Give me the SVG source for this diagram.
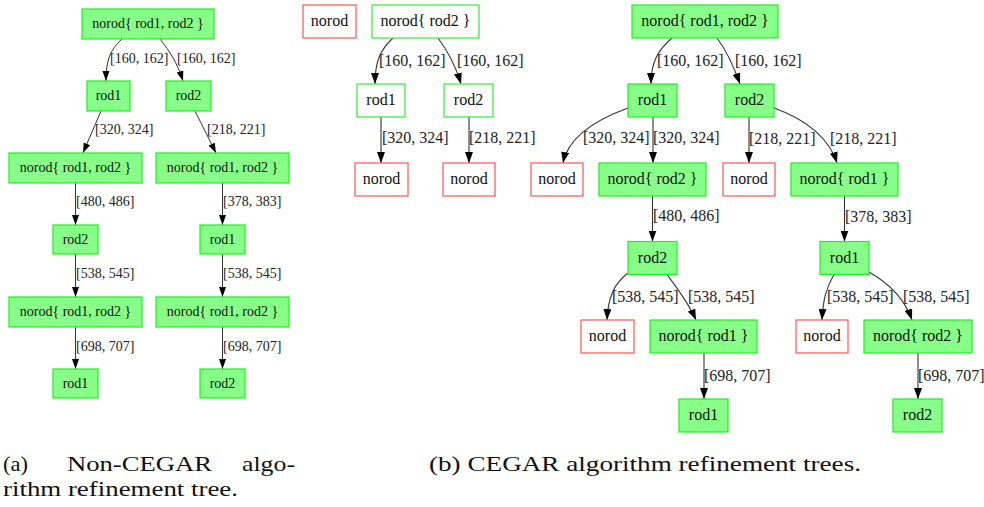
<svg xmlns="http://www.w3.org/2000/svg" width="984" height="507" viewBox="0 0 984 507">
<style>
  .g { fill: #88ff88; stroke: #22ee22; stroke-width: 1.2; }
  .w { fill: #ffffff; stroke: #33ee33; stroke-width: 1.2; }
  .r { fill: #ffffff; stroke: #ff5555; stroke-width: 1.2; }
  .ea { fill: none; stroke: #333; stroke-width: 1; marker-end: url(#arrA); }
  .eb { fill: none; stroke: #333; stroke-width: 1.1; marker-end: url(#arrB); }
</style>
<defs>
  <marker id="arrA" markerUnits="userSpaceOnUse" markerWidth="10" markerHeight="8" refX="10" refY="3.5" orient="auto" viewBox="0 0 10 7">
    <path d="M0,0 L10,3.5 L0,7 z" fill="#000"/>
  </marker>
  <marker id="arrB" markerUnits="userSpaceOnUse" markerWidth="11" markerHeight="8" refX="11" refY="4" orient="auto" viewBox="0 0 11 8">
    <path d="M0,0 L11,4 L0,8 z" fill="#000"/>
  </marker>
</defs>
<rect width="984" height="507" fill="#ffffff"/>

<g id="connectors">
  <path class="ea" d="M122,39 C110,50 106,60 106,81"/>
  <path class="ea" d="M160,39 C170,52 177,62 183,81"/>
  <path class="ea" d="M101,111 L83,153"/>
  <path class="ea" d="M195,111 L216,153"/>
  <path class="ea" d="M75.5,183 L75.5,225"/>
  <path class="ea" d="M222.5,183 L222.5,225"/>
  <path class="ea" d="M75.5,254 L75.5,297"/>
  <path class="ea" d="M222.5,254 L222.5,297"/>
  <path class="ea" d="M75.5,327 L75.5,369"/>
  <path class="ea" d="M222.5,327 L222.5,369"/>
  <path class="eb" d="M393,38 C380,50 375,62 375,84"/>
  <path class="eb" d="M438,38 C447,50 455,64 461,84"/>
  <path class="eb" d="M381,117 L381,163"/>
  <path class="eb" d="M469,117 L469,163"/>
  <path class="eb" d="M672,38 C658,50 651,62 651,84"/>
  <path class="eb" d="M717,38 C726,50 733,64 740,84"/>
  <path class="eb" d="M628,108 C595,120 568,138 563,163"/>
  <path class="eb" d="M653,117 L653,163"/>
  <path class="eb" d="M749,117 L749,163"/>
  <path class="eb" d="M774,108 C808,120 830,140 837,163"/>
  <path class="eb" d="M652.5,196 L652.5,241.5"/>
  <path class="eb" d="M844.5,196 L844.5,241.5"/>
  <path class="eb" d="M628,273 C615,283 608,296 607,320"/>
  <path class="eb" d="M667,274.5 C677,288 688,302 696,320"/>
  <path class="eb" d="M834,274.5 C826,288 823,300 822,320"/>
  <path class="eb" d="M869,272 C892,285 905,300 912,320"/>
  <path class="eb" d="M704,353 L704,399"/>
  <path class="eb" d="M918,353 L918,399"/>
</g>

<g id="edge-labels">
  <text font-family="Times New Roman" font-size="14" fill="#222" x="110" y="63">[160, 162]</text>
  <text font-family="Times New Roman" font-size="14" fill="#222" x="177" y="63">[160, 162]</text>
  <text font-family="Times New Roman" font-size="14" fill="#222" x="95" y="134">[320, 324]</text>
  <text font-family="Times New Roman" font-size="14" fill="#222" x="207" y="134">[218, 221]</text>
  <text font-family="Times New Roman" font-size="14" fill="#222" x="76" y="206">[480, 486]</text>
  <text font-family="Times New Roman" font-size="14" fill="#222" x="223" y="206">[378, 383]</text>
  <text font-family="Times New Roman" font-size="14" fill="#222" x="76" y="278">[538, 545]</text>
  <text font-family="Times New Roman" font-size="14" fill="#222" x="223" y="278">[538, 545]</text>
  <text font-family="Times New Roman" font-size="14" fill="#222" x="76" y="351">[698, 707]</text>
  <text font-family="Times New Roman" font-size="14" fill="#222" x="223" y="351">[698, 707]</text>
  <text font-family="Times New Roman" font-size="16" fill="#222" x="379" y="65.5">[160, 162]</text>
  <text font-family="Times New Roman" font-size="16" fill="#222" x="457" y="65.5">[160, 162]</text>
  <text font-family="Times New Roman" font-size="16" fill="#222" x="382" y="142.5">[320, 324]</text>
  <text font-family="Times New Roman" font-size="16" fill="#222" x="469" y="142.5">[218, 221]</text>
  <text font-family="Times New Roman" font-size="16" fill="#222" x="657" y="65.5">[160, 162]</text>
  <text font-family="Times New Roman" font-size="16" fill="#222" x="735" y="65.5">[160, 162]</text>
  <text font-family="Times New Roman" font-size="16" fill="#222" x="583" y="142.5">[320, 324]</text>
  <text font-family="Times New Roman" font-size="16" fill="#222" x="653" y="142.5">[320, 324]</text>
  <text font-family="Times New Roman" font-size="16" fill="#222" x="749" y="143.5">[218, 221]</text>
  <text font-family="Times New Roman" font-size="16" fill="#222" x="830" y="143.5">[218, 221]</text>
  <text font-family="Times New Roman" font-size="16" fill="#222" x="653" y="220.5">[480, 486]</text>
  <text font-family="Times New Roman" font-size="16" fill="#222" x="845" y="221.5">[378, 383]</text>
  <text font-family="Times New Roman" font-size="16" fill="#222" x="612" y="301.5">[538, 545]</text>
  <text font-family="Times New Roman" font-size="16" fill="#222" x="688" y="301.5">[538, 545]</text>
  <text font-family="Times New Roman" font-size="16" fill="#222" x="827" y="301.5">[538, 545]</text>
  <text font-family="Times New Roman" font-size="16" fill="#222" x="903" y="301.5">[538, 545]</text>
  <text font-family="Times New Roman" font-size="16" fill="#222" x="704" y="380.5">[698, 707]</text>
  <text font-family="Times New Roman" font-size="16" fill="#222" x="918" y="380.5">[698, 707]</text>
</g>

<g id="a-root"><rect class="g" x="82" y="9" width="132" height="30"/><text font-family="Times New Roman" font-size="14" fill="#111" text-anchor="middle" x="148" y="28">norod{ rod1, rod2 }</text></g>
<g id="a-rod1"><rect class="g" x="87" y="81" width="43" height="30"/><text font-family="Times New Roman" font-size="14" fill="#111" text-anchor="middle" x="108.5" y="100">rod1</text></g>
<g id="a-rod2"><rect class="g" x="166" y="81" width="45" height="30"/><text font-family="Times New Roman" font-size="14" fill="#111" text-anchor="middle" x="188.5" y="100">rod2</text></g>
<g id="a-n1"><rect class="g" x="9" y="153" width="133" height="30"/><text font-family="Times New Roman" font-size="14" fill="#111" text-anchor="middle" x="75.5" y="172">norod{ rod1, rod2 }</text></g>
<g id="a-n2"><rect class="g" x="156" y="153" width="133" height="30"/><text font-family="Times New Roman" font-size="14" fill="#111" text-anchor="middle" x="222.5" y="172">norod{ rod1, rod2 }</text></g>
<g id="a-rod2b"><rect class="g" x="53" y="225" width="45" height="29"/><text font-family="Times New Roman" font-size="14" fill="#111" text-anchor="middle" x="75.5" y="243.5">rod2</text></g>
<g id="a-rod1b"><rect class="g" x="200" y="225" width="45" height="29"/><text font-family="Times New Roman" font-size="14" fill="#111" text-anchor="middle" x="222.5" y="243.5">rod1</text></g>
<g id="a-n3"><rect class="g" x="9" y="297" width="133" height="30"/><text font-family="Times New Roman" font-size="14" fill="#111" text-anchor="middle" x="75.5" y="316">norod{ rod1, rod2 }</text></g>
<g id="a-n4"><rect class="g" x="156" y="297" width="133" height="30"/><text font-family="Times New Roman" font-size="14" fill="#111" text-anchor="middle" x="222.5" y="316">norod{ rod1, rod2 }</text></g>
<g id="a-rod1c"><rect class="g" x="53" y="369" width="45" height="29"/><text font-family="Times New Roman" font-size="14" fill="#111" text-anchor="middle" x="75.5" y="387.5">rod1</text></g>
<g id="a-rod2c"><rect class="g" x="200" y="369" width="45" height="29"/><text font-family="Times New Roman" font-size="14" fill="#111" text-anchor="middle" x="222.5" y="387.5">rod2</text></g>

<g id="b1-norod"><rect class="r" x="303" y="5" width="53" height="33"/><text font-family="Times New Roman" font-size="16" fill="#111" text-anchor="middle" x="329.5" y="26">norod</text></g>
<g id="b1-root"><rect class="w" x="372" y="5" width="107" height="33"/><text font-family="Times New Roman" font-size="16" fill="#111" text-anchor="middle" x="425.5" y="26">norod{ rod2 }</text></g>
<g id="b1-rod1"><rect class="w" x="357" y="84" width="48" height="33"/><text font-family="Times New Roman" font-size="16" fill="#111" text-anchor="middle" x="381" y="105">rod1</text></g>
<g id="b1-rod2"><rect class="w" x="444" y="84" width="49" height="33"/><text font-family="Times New Roman" font-size="16" fill="#111" text-anchor="middle" x="468.5" y="105">rod2</text></g>
<g id="b1-norod1"><rect class="r" x="355" y="163" width="53" height="33"/><text font-family="Times New Roman" font-size="16" fill="#111" text-anchor="middle" x="381.5" y="184">norod</text></g>
<g id="b1-norod2"><rect class="r" x="443" y="163" width="52" height="33"/><text font-family="Times New Roman" font-size="16" fill="#111" text-anchor="middle" x="469" y="184">norod</text></g>

<g id="b2-root"><rect class="g" x="632" y="5" width="146" height="33"/><text font-family="Times New Roman" font-size="16" fill="#111" text-anchor="middle" x="705" y="26">norod{ rod1, rod2 }</text></g>
<g id="b2-rod1"><rect class="g" x="628" y="84" width="49" height="33"/><text font-family="Times New Roman" font-size="16" fill="#111" text-anchor="middle" x="652.5" y="105">rod1</text></g>
<g id="b2-rod2"><rect class="g" x="725" y="84" width="49" height="33"/><text font-family="Times New Roman" font-size="16" fill="#111" text-anchor="middle" x="749.5" y="105">rod2</text></g>
<g id="b2-norod1"><rect class="r" x="531" y="163" width="52" height="33"/><text font-family="Times New Roman" font-size="16" fill="#111" text-anchor="middle" x="557" y="184">norod</text></g>
<g id="b2-n-rod2"><rect class="g" x="599" y="163" width="107" height="33"/><text font-family="Times New Roman" font-size="16" fill="#111" text-anchor="middle" x="652.5" y="184">norod{ rod2 }</text></g>
<g id="b2-norod2"><rect class="r" x="723" y="163" width="52" height="33"/><text font-family="Times New Roman" font-size="16" fill="#111" text-anchor="middle" x="749" y="184">norod</text></g>
<g id="b2-n-rod1"><rect class="g" x="791" y="163" width="107" height="33"/><text font-family="Times New Roman" font-size="16" fill="#111" text-anchor="middle" x="844.5" y="184">norod{ rod1 }</text></g>
<g id="b2-rod2b"><rect class="g" x="628" y="241.5" width="49" height="33"/><text font-family="Times New Roman" font-size="16" fill="#111" text-anchor="middle" x="652.5" y="262.5">rod2</text></g>
<g id="b2-rod1b"><rect class="g" x="820" y="241.5" width="49" height="33"/><text font-family="Times New Roman" font-size="16" fill="#111" text-anchor="middle" x="844.5" y="262.5">rod1</text></g>
<g id="b2-norod3"><rect class="r" x="581" y="320" width="53" height="33"/><text font-family="Times New Roman" font-size="16" fill="#111" text-anchor="middle" x="607.5" y="341">norod</text></g>
<g id="b2-n-rod1b"><rect class="g" x="650" y="320" width="107" height="33"/><text font-family="Times New Roman" font-size="16" fill="#111" text-anchor="middle" x="703.5" y="341">norod{ rod1 }</text></g>
<g id="b2-norod4"><rect class="r" x="796" y="320" width="52" height="33"/><text font-family="Times New Roman" font-size="16" fill="#111" text-anchor="middle" x="822" y="341">norod</text></g>
<g id="b2-n-rod2b"><rect class="g" x="864" y="320" width="108" height="33"/><text font-family="Times New Roman" font-size="16" fill="#111" text-anchor="middle" x="918" y="341">norod{ rod2 }</text></g>
<g id="b2-rod1c"><rect class="g" x="679" y="399" width="49" height="33"/><text font-family="Times New Roman" font-size="16" fill="#111" text-anchor="middle" x="703.5" y="420">rod1</text></g>
<g id="b2-rod2c"><rect class="g" x="893" y="399" width="49" height="33"/><text font-family="Times New Roman" font-size="16" fill="#111" text-anchor="middle" x="917.5" y="420">rod2</text></g>

<g id="captions">
  <text font-family="Times New Roman" font-size="22" fill="#111" y="471"><tspan x="3" textLength="25" lengthAdjust="spacingAndGlyphs">(a)</tspan><tspan x="67" textLength="145" lengthAdjust="spacingAndGlyphs">Non-CEGAR</tspan><tspan x="242" textLength="53" lengthAdjust="spacingAndGlyphs">algo-</tspan></text>
  <text font-family="Times New Roman" font-size="22" fill="#111" x="3" y="496" textLength="235" lengthAdjust="spacingAndGlyphs">rithm refinement tree.</text>
  <text font-family="Times New Roman" font-size="22" fill="#111" x="429" y="471" textLength="432" lengthAdjust="spacingAndGlyphs">(b) CEGAR algorithm refinement trees.</text>
</g>
</svg>
